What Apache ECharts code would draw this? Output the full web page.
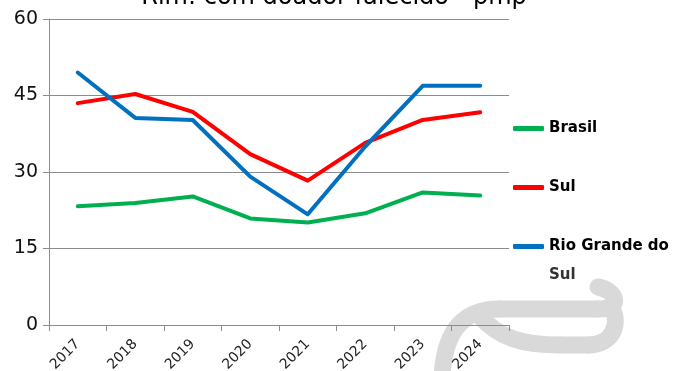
<!DOCTYPE html>
<html lang="pt">
<head>
    <meta charset="UTF-8">
    <title>Rim: com doador falecido - pmp</title>
</head>
<style>
    html, body { margin: 0; padding: 0; background: #fff; }
    #chart { width: 677px; height: 371px; }
</style>
<body>
<div id="chart"></div>
</body>
<script src="https://cdn.jsdelivr.net/npm/echarts@6/dist/echarts.min.js"></script>
<script>
    var years = ['2017', '2018', '2019', '2020', '2021', '2022', '2023', '2024'];
    var brasil = [23.3, 23.9, 25.2, 20.9, 20.1, 21.9, 26.0, 25.4];
    var sul = [43.5, 45.3, 41.8, 33.5, 28.3, 35.7, 40.2, 41.7];
    var rgs = [49.5, 40.6, 40.2, 29.1, 21.7, 35.0, 46.9, 46.9];
    var yTicks = [0, 15, 30, 45, 60];

    var myChart = echarts.init(document.getElementById('chart'));
    var font = 'DejaVu Sans';

    function line(name, data, color) {
        return {
            name: name,
            type: 'line',
            data: data,
            symbol: 'none',
            z: 3,
            lineStyle: { color: color, width: 4, cap: 'round', join: 'round' },
            itemStyle: { color: color }
        };
    }

    // grey watermark in the bottom right corner
    var markStyle = { fill: null, stroke: '#d9d9d9', lineWidth: 17, lineCap: 'round' };
    function curve(x1, y1, c1x, c1y, c2x, c2y, x2, y2) {
        return {
            type: 'bezierCurve', silent: true, z: -10,
            shape: { x1: x1, y1: y1, cpx1: c1x, cpy1: c1y, cpx2: c2x, cpy2: c2y, x2: x2, y2: y2 },
            style: markStyle
        };
    }
    function seg(x1, y1, x2, y2) {
        return {
            type: 'line', silent: true, z: -10,
            shape: { x1: x1, y1: y1, x2: x2, y2: y2 },
            style: markStyle
        };
    }

    var option = {
        animation: false,
        title: {
            text: 'Rim: com doador falecido - pmp',
            left: 329,
            top: -19,
            textAlign: 'center',
            textStyle: { fontFamily: font, fontSize: 24, fontWeight: 'normal', color: '#000' }
        },
        grid: { left: 49, right: 168, top: 19, bottom: 46, outerBoundsMode: 'none', containLabel: false },
        legend: {
            orient: 'vertical',
            left: 513,
            top: 121,
            padding: 0,
            itemGap: 44,
            itemWidth: 31,
            itemHeight: 5,
            icon: 'roundRect',
            textStyle: { fontFamily: font, fontSize: 15, fontWeight: 'bold', color: '#000' },
            formatter: function (name) {
                return name === 'Rio Grande do Sul' ? 'Rio Grande do' : name;
            },
            data: ['Brasil', 'Sul', 'Rio Grande do Sul']
        },
        xAxis: {
            type: 'category',
            data: years,
            boundaryGap: true,
            axisLine: { lineStyle: { color: '#8c8c8c', width: 1 } },
            axisTick: { show: true, alignWithLabel: false, length: 6, lineStyle: { color: '#8c8c8c' } },
            axisLabel: { rotate: 45, margin: 17, fontFamily: font, fontSize: 14, color: '#222' },
            splitLine: { show: false }
        },
        yAxis: {
            type: 'value',
            min: yTicks[0],
            max: yTicks[yTicks.length - 1],
            interval: 15,
            axisLine: { show: true, lineStyle: { color: '#8c8c8c', width: 1 } },
            axisTick: { show: true, length: 6, lineStyle: { color: '#8c8c8c' } },
            axisLabel: { margin: 11, fontFamily: font, fontSize: 19, color: '#111' },
            splitLine: { show: true, lineStyle: { color: '#8c8c8c', width: 1 } }
        },
        graphic: [
            curve(442, 378, 444, 332, 462, 309, 500, 309),
            seg(500, 309, 598, 309),
            curve(598, 309, 624, 309, 616, 290, 598, 287),
            curve(478, 314, 498, 338, 522, 345, 560, 345),
            seg(560, 345, 588, 345),
            curve(588, 345, 614, 345, 620, 322, 612, 309),
            {
                type: 'text',
                left: 549,
                top: 268,
                style: { text: 'Sul', fontFamily: font, fontSize: 15, fontWeight: 'bold', fill: '#333' }
            }
        ],
        series: [
            line('Brasil', brasil, '#00b050'),
            line('Sul', sul, '#ff0000'),
            line('Rio Grande do Sul', rgs, '#0070c0')
        ]
    };
    myChart.setOption(option);
</script>
</html>
